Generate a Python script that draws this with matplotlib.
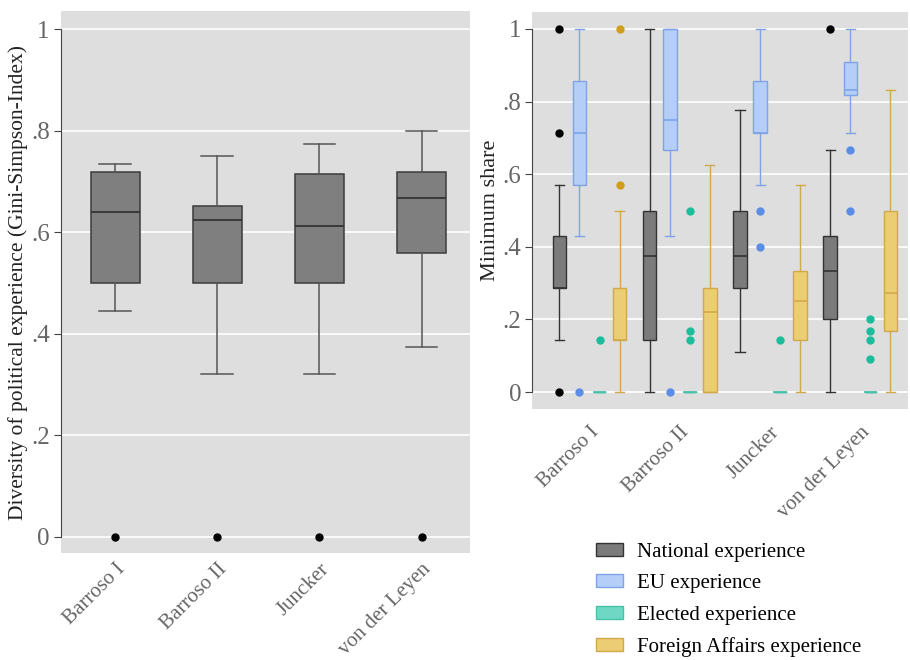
import matplotlib
matplotlib.use("Agg")
import matplotlib.pyplot as plt
from matplotlib.patches import Patch

plt.rcParams['font.family'] = ['Liberation Serif', 'DejaVu Serif']

cabinets = ['Barroso I', 'Barroso II', 'Juncker', 'von der Leyen']

# diversity index per cabinet: (whisker low, q1, median, q3, whisker high)
diversity = [(.445, .50, .64, .72, .735),
             (.32, .50, .625, .652, .75),
             (.32, .50, .612, .715, .775),
             (.375, .56, .667, .72, .80)]
diversity_out = [[0], [0], [0], [0]]

# minimum shares per experience type
national = [(.143, .286, .286, .429, .571),
            (0, .143, .375, .5, 1.0),
            (.111, .286, .375, .5, .778),
            (0, .2, .333, .429, .667)]
national_out = [[0, .714, 1], [], [], [1]]

eu = [(.429, .571, .714, .857, 1.0),
      (.429, .667, .75, 1.0, 1.0),
      (.571, .714, .714, .857, 1.0),
      (.714, .818, .833, .909, 1.0)]
eu_out = [[0], [0], [.4, .5], [.5, .667]]

elected = [(0, 0, 0, 0, 0),
           (0, 0, 0, 0, 0),
           (0, 0, 0, 0, 0),
           (0, 0, 0, 0, 0)]
elected_out = [[.143], [.143, .167, .5], [.143], [.091, .143, .167, .2]]

foreign = [(0, .143, .143, .286, .5),
           (0, 0, .222, .286, .625),
           (0, .143, .25, .333, .571),
           (0, .167, .273, .5, .833)]
foreign_out = [[.571, 1], [], [], []]

series = [
    ('National experience', national, national_out, '#7b7b7b', '#333333', '#000000'),
    ('EU experience', eu, eu_out, '#b4cef7', '#7fa3e6', '#5b8de6'),
    ('Elected experience', elected, elected_out, '#6fd8c4', '#45c2a8', '#1dbd9c'),
    ('Foreign Affairs experience', foreign, foreign_out, '#ebcd73', '#d1a94a', '#d09e1c'),
]

BG = '#dedede'
TICK_COL = '#666666'
yticks = [0, .2, .4, .6, .8, 1]
ytick_lbls = ['0', '.2', '.4', '.6', '.8', '1']


def make_stats(five, out):
    lo, q1, med, q3, hi = five
    return dict(whislo=lo, q1=q1, med=med, q3=q3, whishi=hi, fliers=out)


def style_axes(ax, xpad):
    ax.set_facecolor(BG)
    for s in ['top', 'right', 'bottom']:
        ax.spines[s].set_visible(False)
    ax.spines['left'].set_bounds(0, 1)
    ax.spines['left'].set_color('#444444')
    ax.set_yticks(yticks)
    ax.set_yticklabels(ytick_lbls)
    ax.tick_params(axis='y', colors='#444444', labelcolor=TICK_COL,
                   labelsize=18, length=5, pad=3)
    ax.tick_params(axis='x', length=0, labelcolor=TICK_COL, labelsize=15,
                   pad=xpad)
    ax.yaxis.grid(True, color='white', linewidth=1.2)
    ax.set_axisbelow(True)


fig = plt.figure(figsize=(9.1, 6.6), dpi=100)

# left panel: Gini-Simpson diversity
ax1 = fig.add_axes([0.067, 0.162, 0.449, 0.821])
style_axes(ax1, 5)
stats = [make_stats(d, o) for d, o in zip(diversity, diversity_out)]
ax1.bxp(stats, positions=[1, 2, 3, 4], widths=0.48, patch_artist=True,
        capwidths=0.31,
        boxprops=dict(facecolor='#7f7f7f', edgecolor='#3c3c3c', linewidth=1.1),
        medianprops=dict(color='#333333', linewidth=1.3),
        whiskerprops=dict(color='#555555', linewidth=1.1),
        capprops=dict(color='#555555', linewidth=1.1),
        flierprops=dict(marker='o', markerfacecolor='black',
                        markeredgecolor='black', markersize=5))
ax1.set_xlim(0.47, 4.47)
ax1.set_ylim(-0.032, 1.036)
ax1.set_xticks([1, 2, 3, 4])
ax1.set_xticklabels(cabinets, rotation=45, ha='right', rotation_mode='anchor')
ax1.set_ylabel('Diversity of political experience (Gini-Simpson-Index)',
               fontsize=15.5, color='#222222', labelpad=2)

# right panel: minimum shares by experience type
ax2 = fig.add_axes([0.585, 0.380, 0.413, 0.602])
style_axes(ax2, 10)
step = 0.222
offsets = [-1.5 * step, -0.5 * step, 0.5 * step, 1.5 * step]
handles = []
for k, (name, five, outs, fc, ec, mc) in enumerate(series):
    stats = [make_stats(f, o) for f, o in zip(five, outs)]
    pos = [g + 1 + offsets[k] for g in range(len(cabinets))]
    ax2.bxp(stats, positions=pos, widths=0.15, patch_artist=True,
            capwidths=0.1,
            boxprops=dict(facecolor=fc, edgecolor=ec, linewidth=1.0),
            medianprops=dict(color=ec, linewidth=1.2),
            whiskerprops=dict(color=ec, linewidth=1.0),
            capprops=dict(color=ec, linewidth=1.0),
            flierprops=dict(marker='o', markerfacecolor=mc,
                            markeredgecolor=mc, markersize=5))
    handles.append(Patch(facecolor=fc, edgecolor=ec, label=name))
ax2.set_xlim(0.367, 4.53)
ax2.set_ylim(-0.047, 1.047)
ax2.set_xticks([1, 2, 3, 4])
ax2.set_xticklabels(cabinets, rotation=45, ha='right', rotation_mode='anchor')
ax2.set_ylabel('Minimum share', fontsize=16, color='#222222', labelpad=2)

fig.legend(handles=handles, loc='lower left', bbox_to_anchor=(0.634, -0.024),
           frameon=False, fontsize=15, handlelength=1.3, handleheight=0.6,
           labelspacing=0.6, handletextpad=0.7)

fig.savefig('out.png', dpi=100)
